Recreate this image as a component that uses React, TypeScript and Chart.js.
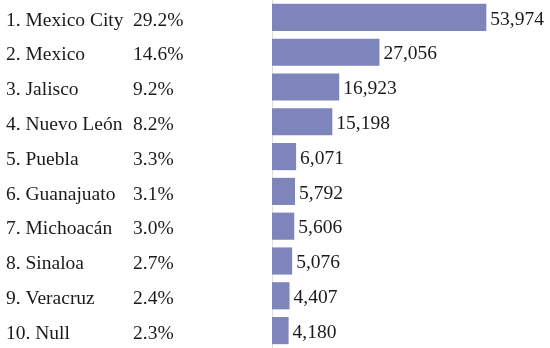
import React, { useEffect, useRef } from "react";
import { Chart, registerables } from "chart.js";

Chart.register(...registerables);

const categories = [
  "1. Mexico City",
  "2. Mexico",
  "3. Jalisco",
  "4. Nuevo León",
  "5. Puebla",
  "6. Guanajuato",
  "7. Michoacán",
  "8. Sinaloa",
  "9. Veracruz",
  "10. Null",
];
const shares = ["29.2%", "14.6%", "9.2%", "8.2%", "3.3%", "3.1%", "3.0%", "2.7%", "2.4%", "2.3%"];
const counts = [53974, 27056, 16923, 15198, 6071, 5792, 5606, 5076, 4407, 4180];

const FONT = "'Liberation Serif', 'Times New Roman', serif";
const TEXT = "#1a1a1a";

export default function App() {
  const ref = useRef<HTMLCanvasElement | null>(null);
  useEffect(() => {
    if (!ref.current) return;
    const labelPlugin = {
      id: "labels",
      afterDatasetsDraw(chart: any) {
        const ctx = chart.ctx;
        const meta = chart.getDatasetMeta(0);
        ctx.save();
        ctx.font = `19.5px ${FONT}`;
        ctx.fillStyle = TEXT;
        ctx.textBaseline = "middle";
        meta.data.forEach((bar: any, i: number) => {
          ctx.textAlign = "left";
          ctx.fillText(counts[i].toLocaleString("en-US"), bar.x + 4, bar.y + 2);
          ctx.fillText(shares[i], 133, bar.y + 3);
        });
        ctx.restore();
      },
    };
    const chart = new Chart(ref.current, {
      type: "bar",
      data: {
        labels: categories,
        datasets: [
          {
            data: counts,
            backgroundColor: "rgb(126,133,186)",
            borderWidth: 0,
            barPercentage: 0.78,
            categoryPercentage: 1,
          },
        ],
      },
      options: {
        indexAxis: "y",
        animation: false,
        responsive: true,
        maintainAspectRatio: false,
        layout: { padding: { left: 6, right: 0, top: 0, bottom: 0 } },
        plugins: { legend: { display: false }, tooltip: { enabled: false } },
        scales: {
          x: { display: false, min: 0, max: 70000 },
          y: {
            grid: { display: false },
            border: { display: true, color: "#dcdce4", width: 1 },
            ticks: {
              crossAlign: "far",
              color: TEXT,
              font: { family: FONT, size: 19.5 },
              labelOffset: 3,
            },
            afterFit(scale: any) {
              scale.width = 266;
              scale.paddingTop = 0;
              scale.paddingBottom = 0;
            },
          },
        },
      },
      plugins: [labelPlugin],
    } as any);
    return () => chart.destroy();
  }, []);
  return (
    <div style={{ position: "fixed", left: 0, top: 0, width: 550, height: 348, background: "#fff" }}>
      <canvas ref={ref} />
    </div>
  );
}
